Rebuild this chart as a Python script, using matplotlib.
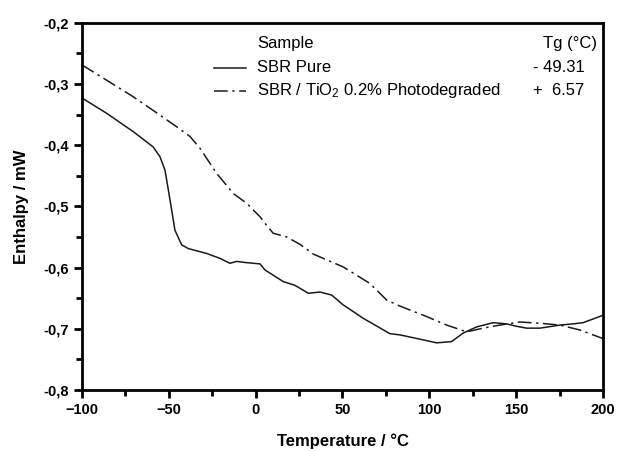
import numpy as np
import matplotlib
matplotlib.use("Agg")
import matplotlib.pyplot as plt
from matplotlib.lines import Line2D

plt.rcParams["font.family"] = ["Liberation Sans", "DejaVu Sans"]
plt.rcParams["mathtext.fontset"] = "custom"
plt.rcParams["mathtext.rm"] = "Liberation Sans"
plt.rcParams["mathtext.it"] = "Liberation Sans:italic"
plt.rcParams["mathtext.bf"] = "Liberation Sans:bold"

# SBR pure (solid)
t_pure = [-100, -85.8, -70.5, -59, -55.1, -52.2, -49.3, -47.4, -46.5, -42.6, -38.8,
          -28.2, -20.6, -14.8, -10.9, -5.2, 2.5, 5.4, 15.9, 22.6, 30.3, 37.0, 43.8,
          50.4, 62, 77.3, 83.1, 94.6, 104.2, 112.8, 119.5, 127.2, 136.8, 144.5,
          150.3, 156.0, 163.7, 175.2, 182.9, 188.6, 200]
h_pure = [-0.323, -0.348, -0.378, -0.403, -0.419, -0.441, -0.49, -0.523, -0.539,
          -0.563, -0.569, -0.577, -0.585, -0.593, -0.590, -0.592, -0.594, -0.604,
          -0.623, -0.629, -0.642, -0.640, -0.645, -0.661, -0.683, -0.708, -0.710,
          -0.717, -0.723, -0.721, -0.707, -0.697, -0.690, -0.692, -0.696, -0.699,
          -0.699, -0.694, -0.692, -0.690, -0.678]

# SBR / TiO2 0.2% photodegraded (dash-dot)
t_deg = [-100, -85.8, -70.5, -55.1, -45.5, -37.8, -32.1, -22.5, -12.9, -5.2, 2.5,
         6.3, 10.1, 17.8, 25.5, 33.2, 50.4, 65.8, 75.4, 83.1, 98.4, 110, 121.5,
         131.0, 140.6, 152.1, 163.7, 175.2, 186.7, 200]
h_deg = [-0.269, -0.294, -0.321, -0.351, -0.370, -0.386, -0.405, -0.446, -0.479,
         -0.495, -0.517, -0.531, -0.544, -0.550, -0.562, -0.578, -0.599, -0.626,
         -0.653, -0.663, -0.680, -0.694, -0.705, -0.699, -0.694, -0.689, -0.691,
         -0.694, -0.702, -0.716]

x_ticks = [-100, -50, 0, 50, 100, 150, 200]
y_ticks = [-0.8, -0.7, -0.6, -0.5, -0.4, -0.3, -0.2]
y_labels = ["-0,8", "-0,7", "-0,6", "-0,5", "-0,4", "-0,3", "-0,2"]

samples = ["SBR Pure", "SBR / TiO$_2$ 0.2% Photodegraded"]
tg_text = ["- 49.31", "+  6.57"]

fig = plt.figure(figsize=(6.18, 4.51), dpi=100)
ax = fig.add_axes([0.1327, 0.1353, 0.8430, 0.8144])

dashdot = (0, (9, 3, 1.5, 3))
ax.plot(t_pure, h_pure, color="#1a1a1a", lw=1.1)
ax.plot(t_deg, h_deg, color="#1a1a1a", lw=1.1, linestyle=dashdot)

ax.set_xlim(-100, 200)
ax.set_ylim(-0.8, -0.2)
ax.set_xticks(x_ticks)
ax.set_xticks(np.arange(-75, 200, 50), minor=True)
ax.set_yticks(y_ticks)
ax.set_yticklabels(y_labels)
ax.set_yticks(np.arange(-0.75, -0.2, 0.1), minor=True)

for s in ax.spines.values():
    s.set_linewidth(2)
ax.tick_params(which="major", direction="out", length=6, width=2, labelsize=10.5,
               top=False, right=False)
ax.tick_params(which="minor", direction="out", length=4, width=2,
               top=False, right=False)
for lab in ax.get_xticklabels() + ax.get_yticklabels():
    lab.set_fontweight("bold")

ax.set_xlabel("Temperature / °C", fontsize=12, fontweight="bold", labelpad=12)
ax.set_ylabel("Enthalpy / mW", fontsize=12, fontweight="bold", labelpad=10)

# legend table
tr = ax.transAxes
fs = 12
ax.text(0.336, 0.942, "Sample", transform=tr, fontsize=fs, va="center", ha="left")
ax.text(0.988, 0.942, "Tg (°C)", transform=tr, fontsize=fs, va="center", ha="right")
rows_y = [0.877, 0.815]
styles = ["-", dashdot]
for yy, name, tg, ls in zip(rows_y, samples, tg_text, styles):
    ax.add_line(Line2D([0.254, 0.314], [yy, yy], transform=tr, color="#1a1a1a",
                       lw=1.1, linestyle=ls))
    ax.text(0.336, yy, name, transform=tr, fontsize=fs, va="center", ha="left")
    ax.text(0.866, yy, tg, transform=tr, fontsize=fs, va="center", ha="left")

fig.savefig("out.png", dpi=100)
